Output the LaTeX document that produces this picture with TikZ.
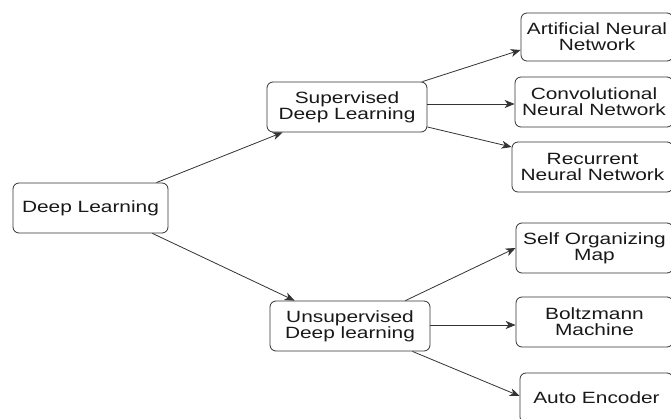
\documentclass[tikz,border=0pt]{standalone}
\usepackage{fontspec}
\setmainfont{Liberation Sans}[FakeStretch=1.28]
\usetikzlibrary{arrows.meta}
\begin{document}
\begin{tikzpicture}[x=1pt,y=-1pt,
  box/.style={draw=black!80, line width=0.8pt, rounded corners=6pt,
    inner sep=0pt, minimum height=50pt, align=center, text=black!90,
    font=\fontsize{16.3}{16.3}\selectfont},
  link/.style={draw=black!80, line width=0.8pt,
    -{Stealth[length=10pt,width=8pt,inset=3pt]}}]
\useasboundingbox (0,0) rectangle (671,419);
\clip (0,0) rectangle (671,419);
\fill[white] (0,0) rectangle (671,419);

% root
\node[box, minimum width=155pt] (dl) at (90.5,208) {Deep Learning};

% two families
\node[box, minimum width=160pt] (sup) at (347,107) {Supervised\\Deep Learning};
\node[box, minimum width=160pt] (uns) at (350,326) {Unsupervised\\Deep learning};

% supervised models
\node[box, minimum width=152pt, minimum height=48pt] (ann) at (597,37) {Artificial Neural\\Network};
\node[box, minimum width=158pt] (cnn) at (594,102) {Convolutional\\Neural Network};
\node[box, minimum width=161pt] (rnn) at (592.5,167) {Recurrent\\Neural Network};

% unsupervised models
\node[box, minimum width=157pt] (som) at (594.5,248) {Self Organizing\\Map};
\node[box, minimum width=157pt] (bm) at (594.5,322) {Boltzmann\\Machine};
\node[box, minimum width=153pt] (ae) at (596.5,398) {Auto Encoder};

% connectors
\draw[link] ([xshift=-12pt]dl.north east) -- ([xshift=16pt]sup.south west);
\draw[link] ([xshift=-16pt]dl.south east) -- ([xshift=25pt]uns.north west);

\draw[link] ([xshift=-5pt]sup.north east) -- ([yshift=-13pt]ann.west);
\draw[link] ([yshift=3pt]sup.east) -- ([yshift=-2pt]cnn.west);
\draw[link] ([yshift=-20pt]sup.east) -- ([yshift=20pt]rnn.west);

\draw[link] ([xshift=-25pt]uns.north east) -- (som.west);
\draw[link] ([yshift=1pt]uns.east) -- ([yshift=-3pt]bm.west);
\draw[link] ([xshift=-18pt]uns.south east) -- ([yshift=2pt]ae.west);
\end{tikzpicture}
\end{document}
